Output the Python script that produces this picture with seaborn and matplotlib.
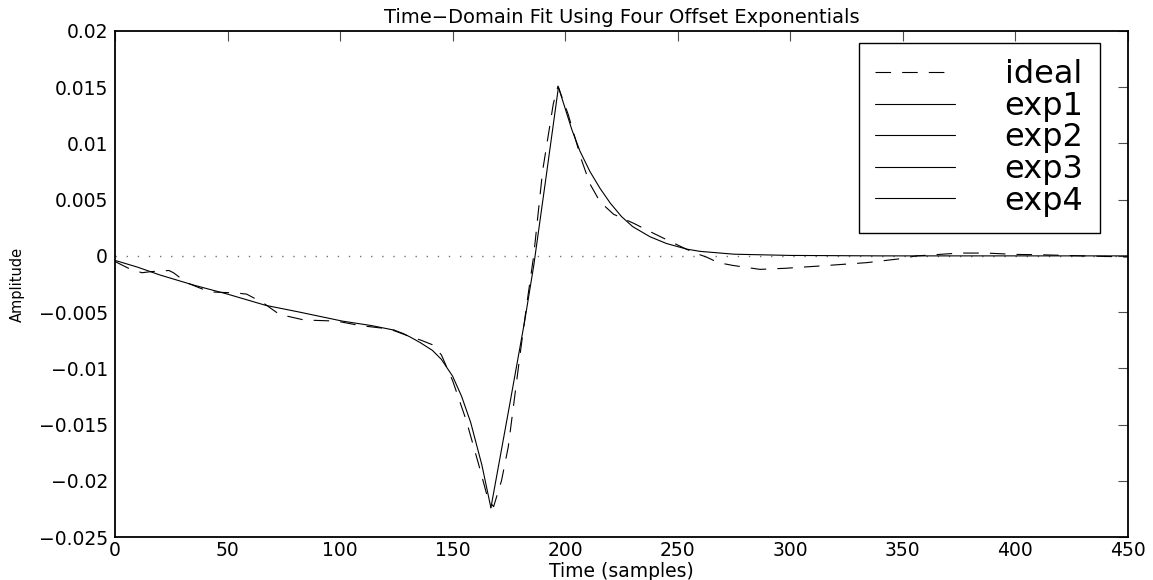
import matplotlib
matplotlib.use("Agg")
import matplotlib.pyplot as plt
import seaborn as sns

# ---- data ----
ideal_t = [0, 6, 12, 16, 24, 26, 32, 42, 54, 58.5, 66, 73, 84, 98.5, 109, 122, 130,
           136, 141, 145, 150, 156, 161.5, 165.8, 168.2, 171.7, 174.7, 177.7, 180, 183,
           186, 190, 194.7, 196.8, 201.3, 207.3, 211, 215.5, 221.5, 230.4, 239.3, 249.6,
           257, 262.7, 268, 274.5, 286.5, 298, 313, 334, 349, 356, 364, 375, 387, 400,
           411, 430, 450]
ideal_v = [-0.0005, -0.0011, -0.0015, -0.0014, -0.0013, -0.0015, -0.0024, -0.0032, -0.0033,
           -0.0034, -0.0042, -0.0052, -0.0057, -0.0058, -0.0062, -0.0065, -0.0071,
           -0.0075, -0.0079, -0.0088, -0.0111, -0.0146, -0.0185, -0.0217, -0.0223, -0.0200,
           -0.0170, -0.0123, -0.0087, -0.0042, 0.0000, 0.0076, 0.0135, 0.0151, 0.0126,
           0.0085, 0.0064, 0.0048, 0.0037, 0.0029, 0.0020, 0.0010, 0.0003, -0.0001,
           -0.0006, -0.00085, -0.0012, -0.0011, -0.0009, -0.0006, -0.00025, 0.0, 0.0001,
           0.00025, 0.00025, 0.00013, 0.0001, 0.0, -0.0001]

exp1_t = [0, 10, 20, 35, 50, 67, 82, 101, 114, 124]
exp1_v = [-0.0004, -0.0010, -0.0017, -0.0026, -0.0034, -0.0044, -0.0050, -0.0058, -0.0062, -0.0066]

exp2_t = [124, 128, 131, 135.5, 141, 145, 150, 154, 158, 163, 167]
exp2_v = [-0.0066, -0.0069, -0.0072, -0.0077, -0.0084, -0.0092, -0.0107, -0.0125, -0.0148,
          -0.0186, -0.0224]

exp3_t = [167, 175, 182, 186, 191.5, 197]
exp3_v = [-0.0224, -0.0136, -0.0058, -0.0009, 0.0070, 0.0150]

exp4_t = [197, 200, 203, 206.6, 211, 215.5, 220, 225, 230, 237.7, 245, 254, 260, 275, 300,
          340, 400, 450]
exp4_v = [0.0150, 0.0131, 0.0112, 0.0093, 0.0075, 0.0060, 0.0047, 0.0035, 0.0026, 0.0017,
          0.0011, 0.0006, 0.0004, 0.00015, 0.00004, 0.0, 0.0, 0.0]

series_names = ["ideal", "exp1", "exp2", "exp3", "exp4"]
x_ticks = [0, 50, 100, 150, 200, 250, 300, 350, 400, 450]
y_ticks = [-0.025, -0.02, -0.015, -0.01, -0.005, 0, 0.005, 0.01, 0.015, 0.02]
y_tick_labels = ["\u22120.025", "\u22120.02", "\u22120.015", "\u22120.01", "\u22120.005",
                 "0", "0.005", "0.01", "0.015", "0.02"]

title = "Time\u2212Domain Fit Using Four Offset Exponentials"
xlabel = "Time (samples)"
ylabel = "Amplitude"

# ---- style ----
sns.set_style("white")
plt.rcParams["font.family"] = ["DejaVu Sans"]
plt.rcParams["text.color"] = "black"
plt.rcParams["axes.labelcolor"] = "black"
plt.rcParams["xtick.color"] = "black"
plt.rcParams["ytick.color"] = "black"

fig = plt.figure(figsize=(11.53, 5.80), dpi=100)
ax = fig.add_axes([0.0997, 0.0741, 0.8786, 0.8725])

lw = 0.8
ax.axhline(0, color="0.45", lw=1.0, linestyle=(0, (1, 7)), zorder=1)

sns.lineplot(x=ideal_t, y=ideal_v, ax=ax, color="black", lw=lw,
             linestyle=(0, (14, 10)), label=series_names[0], sort=False)
for (t, v), name in zip([(exp1_t, exp1_v), (exp2_t, exp2_v), (exp3_t, exp3_v),
                         (exp4_t, exp4_v)], series_names[1:]):
    sns.lineplot(x=t, y=v, ax=ax, color="black", lw=lw, label=name, sort=False)

ax.set_xlim(0, 450)
ax.set_ylim(-0.025, 0.02)
ax.set_xticks(x_ticks)
ax.set_xticklabels([str(v) for v in x_ticks])
ax.set_yticks(y_ticks)
ax.set_yticklabels(y_tick_labels)

ax.tick_params(direction="in", length=7, width=0.8, color="0.3",
               top=True, right=True, labelsize=13.5, labelcolor="black")
ax.tick_params(axis="x", pad=3)
ax.tick_params(axis="y", pad=5)
for s in ax.spines.values():
    s.set_visible(True)
    s.set_color("black")
    s.set_linewidth(1.3)

ax.set_title(title, fontsize=14, pad=6, color="black")
ax.set_xlabel(xlabel, fontsize=13.5, labelpad=1, color="black")
ax.set_ylabel(ylabel, fontsize=10.5, labelpad=10, color="black")

leg = ax.legend(loc="upper right", bbox_to_anchor=(0.972, 0.976), borderaxespad=0,
                fontsize=23, frameon=True, fancybox=False, framealpha=1,
                edgecolor="black", handlelength=2.5, handletextpad=1.55,
                labelspacing=0.02, borderpad=0.5, markerfirst=True)
leg.get_frame().set_linewidth(1.0)
for txt in leg.get_texts():
    txt.set_color("black")

fig.savefig("out.png", dpi=100)
